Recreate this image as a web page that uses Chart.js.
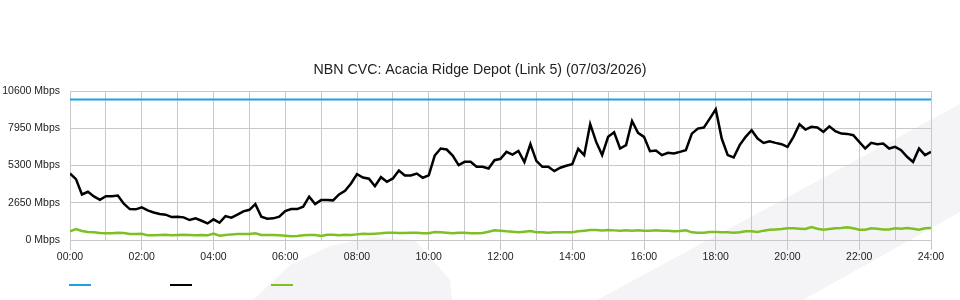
<!DOCTYPE html>
<html>
<head>
<meta charset="utf-8">
<script src="https://cdn.jsdelivr.net/npm/chart.js@4.4.1/dist/chart.umd.min.js"></script>
<style>
  html, body { margin: 0; padding: 0; background: #fff; }
  #wrap { position: relative; width: 960px; height: 300px; overflow: hidden; }
  .mark { position: absolute; left: 0; top: 0; width: 960px; height: 300px; background: #f4f4f6; }
  #mark1 { clip-path: polygon(253px 300px, 290px 265px, 330px 246px, 372px 237px, 415px 240px, 450px 280px, 452px 300px); }
  #mark2 { clip-path: polygon(597px 300px, 960px 104px, 960px 212px, 803px 300px); }
  canvas { position: absolute; left: 0; top: 0; }
  #legend { position: absolute; left: 69px; top: 284px; display: flex; }
  #legend span { display: block; width: 22px; height: 2px; margin-right: 79px; }
</style>
</head>
<body>
<div id="wrap">
  <div class="mark" id="mark1"></div>
  <div class="mark" id="mark2"></div>
  <canvas id="cvc_graph" width="960" height="300"></canvas>
  <div id="legend"></div>
</div>
<script>
  // 10 minute samples, 00:00 .. 24:00
  const minutes = [];
  for (let m = 0; m <= 1440; m += 10) minutes.push(m);

  const capacity = 10000;

  const traffic = [
    4730, 4330, 3240, 3430, 3100, 2860, 3120, 3120, 3170, 2580, 2200, 2180,
    2320, 2110, 1960, 1850, 1800, 1630, 1660, 1610, 1420, 1540, 1370, 1180,
    1470, 1230, 1700, 1590, 1800, 2040, 2150, 2550, 1660, 1520, 1540, 1660,
    2060, 2200, 2200, 2370, 3080, 2560, 2840, 2840, 2820, 3240, 3500, 4020,
    4690, 4450, 4360, 3830, 4470, 4140, 4380, 4950, 4590, 4590, 4730, 4430,
    4600, 6010, 6510, 6440, 6010, 5330, 5560, 5560, 5210, 5210, 5090, 5680,
    5780, 6270, 6080, 6340, 5540, 6820, 5630, 5210, 5210, 4900, 5140, 5280,
    5400, 6490, 6040, 8250, 6980, 6040, 7340, 7670, 6510, 6750, 8470, 7620,
    7340, 6320, 6370, 6040, 6200, 6150, 6270, 6390, 7570, 7930, 8000, 8640,
    9300, 7220, 6040, 5870, 6750, 7340, 7810, 7220, 6910, 7030, 6910, 6820,
    6630, 7340, 8240, 7860, 8050, 8000, 7690, 8090, 7740, 7570, 7550, 7460,
    6980, 6510, 6910, 6820, 6860, 6510, 6630, 6390, 5920, 5560, 6510, 6040,
    6270,
  ];

  const upload = [
    615, 780, 640, 570, 545, 500, 475, 475, 520, 500, 425, 425,
    450, 330, 330, 355, 380, 330, 355, 380, 355, 330, 355, 330,
    450, 310, 355, 400, 425, 425, 425, 475, 355, 355, 355, 330,
    310, 260, 285, 330, 355, 355, 285, 380, 380, 330, 380, 355,
    400, 450, 425, 450, 475, 520, 520, 500, 500, 520, 520, 475,
    475, 570, 545, 520, 475, 520, 520, 475, 475, 500, 590, 685,
    665, 615, 590, 545, 590, 640, 545, 545, 520, 545, 545, 545,
    545, 615, 665, 710, 710, 685, 710, 685, 665, 685, 665, 685,
    665, 665, 685, 665, 665, 615, 640, 685, 545, 520, 520, 570,
    570, 545, 545, 520, 545, 615, 615, 570, 665, 735, 755, 780,
    830, 830, 805, 780, 925, 805, 735, 780, 830, 850, 900, 830,
    735, 735, 830, 805, 755, 755, 830, 805, 850, 805, 735, 830,
    850,
  ];

  const yTicks = [0, 2650, 5300, 7950, 10600];

  const gridColor = "#c8c8c8";
  Chart.defaults.font.family = "'Liberation Sans', Arial, sans-serif";
  Chart.defaults.color = "#222";

  const cvc_graph = new Chart(document.getElementById("cvc_graph"), {
    type: "line",
    data: {
      labels: minutes,
      datasets: [
        {
          label: "Capacity",
          data: [{ x: 0, y: capacity }, { x: 1440, y: capacity }],
          borderColor: "#1aa3e0",
          borderWidth: 2,
        },
        {
          label: "Download",
          data: traffic,
          borderColor: "#000000",
          borderWidth: 2.5,
        },
        {
          label: "Upload",
          data: upload,
          borderColor: "#7cc023",
          borderWidth: 2.5,
        },
      ],
    },
    options: {
      responsive: false,
      animation: false,
      elements: { point: { radius: 0 }, line: { tension: 0, fill: false } },
      layout: { padding: { top: 62, right: 0, bottom: 35, left: 0 } },
      plugins: {
        legend: { display: false },
        tooltip: { enabled: false },
        title: {
          display: true,
          text: "NBN CVC: Acacia Ridge Depot (Link 5) (07/03/2026)",
          font: { size: 14.2, weight: "normal" },
          color: "#222",
          padding: { top: 0, bottom: 12 },
        },
      },
      scales: {
        x: {
          type: "linear",
          min: 0,
          max: 1440,
          afterFit: (scale) => { scale.height = 25; },
          grid: {
            color: gridColor,
            tickLength: 10,
            tickColor: (ctx) => (ctx.tick && ctx.tick.value % 120 === 0 ? gridColor : "rgba(0,0,0,0)"),
          },
          border: { color: gridColor },
          ticks: {
            stepSize: 60,
            autoSkip: false,
            maxRotation: 0,
            padding: 1,
            font: { size: 10.5 },
            callback: (v) => (v % 120 === 0 ? String(v / 60).padStart(2, "0") + ":00" : ""),
          },
        },
        y: {
          min: 0,
          max: 10600,
          afterFit: (scale) => { scale.width = 70; },
          afterBuildTicks: (scale) => { scale.ticks = yTicks.map((v) => ({ value: v })); },
          grid: { color: gridColor, drawTicks: false },
          border: { color: gridColor },
          ticks: {
            padding: 10,
            font: { size: 10.5 },
            callback: (v) => v + " Mbps",
          },
        },
        // empty right margin so the title stays centred on the page
        yRight: {
          position: "right",
          afterFit: (scale) => { scale.width = 29; },
          grid: { display: false, drawTicks: false },
          border: { display: false },
          ticks: { display: false },
        },
      },
    },
  });

  // line-only legend under the chart, no text in the original
  const legendBox = document.getElementById("legend");
  cvc_graph.data.datasets.forEach((ds) => {
    const s = document.createElement("span");
    s.style.background = ds.borderColor;
    legendBox.appendChild(s);
  });
</script>
</body>
</html>
